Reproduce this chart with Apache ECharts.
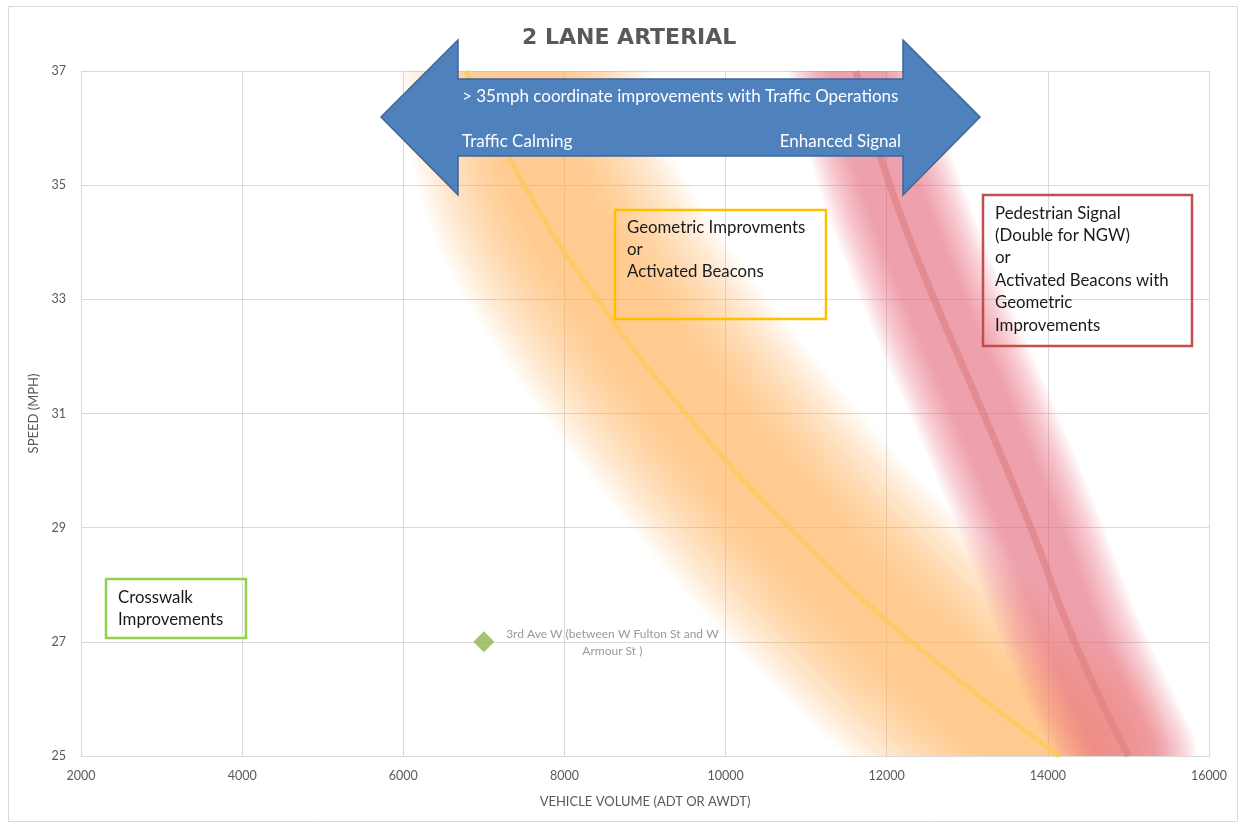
<!DOCTYPE html>
<html>
<head>
<meta charset="utf-8">
<script src="https://cdn.jsdelivr.net/npm/echarts@6/dist/echarts.min.js"></script>
<style>
html,body{margin:0;padding:0;background:#ffffff;}
#chart{width:1241px;height:826px;}
</style>
</head>
<body>
<div id="chart"></div>
<script>
// ---- axis settings ----
const xMin = 2000, xMax = 16000, xStep = 2000;
const yMin = 25, yMax = 37, yStep = 2;

// ---- curves (vehicle volume, speed) ----
const yellowLine = [[6780,37],[7500,35],[8410,33],[9505,31],[10797,29],[12310,27],[14150,25]];
const redLine = [[11620,37],[12040,35],[12590,33],[13200,31],[13790,29],[14330,27],[15000,25]];
const orangeBand = [[7500,37],[7800,35],[8620,33],[9680,31],[10860,29],[12250,27],[13950,25]];
const redBand = redLine;

// ---- site point ----
const sitePoints = [[7000,27]];
const siteLabel = '3rd Ave W (between W Fulton St and W\nArmour St )';

// ---- text ----
const titleText = '2 LANE ARTERIAL';
const xName = 'VEHICLE VOLUME (ADT OR AWDT)';
const yName = 'SPEED (MPH)';
const arrowTop = '> 35mph coordinate improvements with Traffic Operations';
const arrowLeft = 'Traffic Calming';
const arrowRight = 'Enhanced Signal';
const crosswalkText = 'Crosswalk\nImprovements';
const geometricText = 'Geometric Improvments\nor\nActivated Beacons';
const pedestrianText = 'Pedestrian Signal\n(Double for NGW)\nor\nActivated Beacons with\nGeometric\nImprovements';

const FONT = 'Lato, "Open Sans", sans-serif';

function layerWidths(maxW, minW, step) {
  const out = [];
  for (let w = maxW; w >= minW; w -= step) out.push(w);
  return out;
}

function bandSeries(points, widths, color, z) {
  return {
    type: 'custom',
    coordinateSystem: 'cartesian2d',
    clip: true,
    silent: true,
    z: z,
    data: points,
    renderItem: function (params, api) {
      if (params.dataIndex !== 0) return null;
      const pts = points.map(p => api.coord(p));
      return {
        type: 'group',
        children: widths.map(w => ({
          type: 'polyline',
          silent: true,
          shape: { points: pts, smooth: 0.35 },
          style: {
            fill: null, stroke: color, lineWidth: w,
            lineCap: 'round', lineJoin: 'round'
          }
        }))
      };
    }
  };
}

const chart = echarts.init(document.getElementById('chart'), null, { renderer: 'canvas' });

const option = {
  backgroundColor: '#ffffff',
  animation: false,
  title: {
    text: titleText,
    left: 517, top: 22,
    textStyle: { fontFamily: '"DejaVu Sans", sans-serif', fontWeight: 'bold', fontSize: 22, color: '#595959' }
  },
  grid: { left: 81, right: 32, top: 71, bottom: 70, containLabel: false },
  xAxis: {
    type: 'value', min: xMin, max: xMax, interval: xStep,
    name: xName, nameLocation: 'middle', nameGap: 39,
    nameTextStyle: { fontFamily: FONT, fontSize: 13, color: '#595959' },
    axisLine: { show: true, lineStyle: { color: '#D9D9D9', width: 1 } },
    axisTick: { show: false },
    axisLabel: { fontFamily: FONT, fontSize: 12.5, color: '#595959', margin: 13, formatter: v => String(v) },
    splitLine: { show: true, lineStyle: { color: '#D9D9D9', width: 1 } }
  },
  yAxis: {
    type: 'value', min: yMin, max: yMax, interval: yStep,
    name: yName, nameLocation: 'middle', nameGap: 37,
    nameTextStyle: { fontFamily: FONT, fontSize: 13, color: '#595959' },
    axisLine: { show: false },
    axisTick: { show: false },
    axisLabel: { fontFamily: FONT, fontSize: 12.5, color: '#595959', margin: 15 },
    splitLine: { show: true, lineStyle: { color: '#D9D9D9', width: 1 } }
  },
  series: [
    bandSeries(orangeBand, layerWidths(250, 80, 10), 'rgba(250,180,100,0.053)', 1),
    bandSeries(redBand, layerWidths(136, 56, 5), 'rgba(235,110,120,0.056)', 1),
    {
      type: 'line', data: yellowLine, smooth: 0.5, showSymbol: false, silent: true, z: 2,
      lineStyle: { color: 'rgba(255,200,90,0.75)', width: 5 }
    },
    {
      type: 'line', data: redLine, smooth: 0.5, showSymbol: false, silent: true, z: 2,
      lineStyle: { color: 'rgba(222,125,128,0.6)', width: 7 }
    },
    {
      type: 'scatter', data: sitePoints, symbol: 'diamond', symbolSize: 21, z: 3,
      itemStyle: { color: '#8DB54B' },
      label: {
        show: true, formatter: siteLabel, position: [139, -6], align: 'center', verticalAlign: 'top',
        fontFamily: FONT, fontSize: 12, color: '#7F7F7F', lineHeight: 17
      }
    }
  ],
  graphic: [
    { type: 'rect', z: 0, silent: true, shape: { x: 8.5, y: 6.5, width: 1229, height: 815 },
      style: { fill: null, stroke: '#D9D9D9', lineWidth: 1 } },
    { type: 'polygon', z: 100, silent: true,
      shape: { points: [[381,117],[458,40],[458,79],[903,79],[903,40],[980,117],[903,195],[903,156],[458,156],[458,195]] },
      style: { fill: '#4F81BD', stroke: '#3B6699', lineWidth: 1.5 } },
    { type: 'text', z: 101, silent: true, x: 462, y: 97,
      style: { text: arrowTop, fill: '#ffffff', font: '17px ' + FONT, textAlign: 'left', textVerticalAlign: 'middle' } },
    { type: 'text', z: 101, silent: true, x: 462, y: 142,
      style: { text: arrowLeft, fill: '#ffffff', font: '17px ' + FONT, textAlign: 'left', textVerticalAlign: 'middle' } },
    { type: 'text', z: 101, silent: true, x: 901, y: 142,
      style: { text: arrowRight, fill: '#ffffff', font: '17px ' + FONT, textAlign: 'right', textVerticalAlign: 'middle' } },

    { type: 'rect', z: 100, silent: true, shape: { x: 106, y: 579, width: 140, height: 59 },
      style: { fill: null, stroke: '#92D050', lineWidth: 2.5 } },
    { type: 'text', z: 101, silent: true, x: 118, y: 586,
      style: { text: crosswalkText, fill: '#1A1A1A', font: '16.8px ' + FONT, lineHeight: 22.4, textAlign: 'left', textVerticalAlign: 'top' } },

    { type: 'rect', z: 100, silent: true, shape: { x: 615, y: 210, width: 211, height: 109 },
      style: { fill: null, stroke: '#FFC000', lineWidth: 2.5 } },
    { type: 'text', z: 101, silent: true, x: 627, y: 216,
      style: { text: geometricText, fill: '#1A1A1A', font: '16.8px ' + FONT, lineHeight: 22.4, textAlign: 'left', textVerticalAlign: 'top' } },

    { type: 'rect', z: 100, silent: true, shape: { x: 983, y: 195, width: 209, height: 151 },
      style: { fill: null, stroke: '#C0504D', lineWidth: 2.5 } },
    { type: 'text', z: 101, silent: true, x: 995, y: 202,
      style: { text: pedestrianText, fill: '#1A1A1A', font: '16.8px ' + FONT, lineHeight: 22.4, textAlign: 'left', textVerticalAlign: 'top' } }
  ]
};

chart.setOption(option);
</script>
</body>
</html>
